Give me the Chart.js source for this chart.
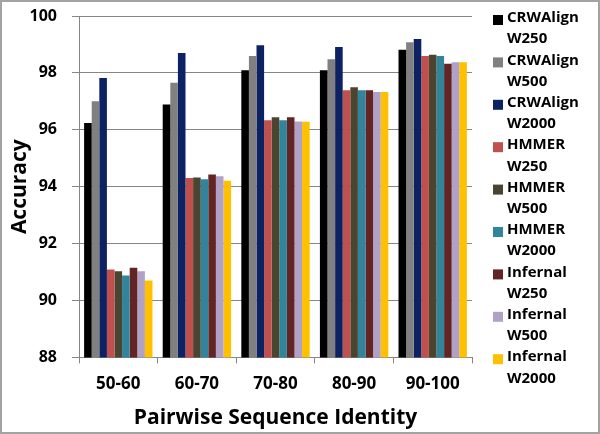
<!DOCTYPE html>
<html>
<head>
<meta charset="utf-8">
<script src="https://cdn.jsdelivr.net/npm/chart.js@4"></script>
<style>
  html, body { margin: 0; padding: 0; background: #fff; }
  .frame { width: 600px; height: 434px; box-sizing: border-box; border: 2px solid #a3a3a3; }
  canvas { display: block; }
</style>
</head>
<body>
<div class="frame"><canvas id="chart" width="596" height="430"></canvas></div>
<script>
// categories + series
const categories = ['50-60', '60-70', '70-80', '80-90', '90-100'];
const yTicks = [88, 90, 92, 94, 96, 98, 100];

const crwW250  = [96.24, 96.89, 98.09, 98.09, 98.81];
const crwW500  = [97.00, 97.65, 98.59, 98.48, 99.08];
const crwW2000 = [97.82, 98.70, 98.97, 98.91, 99.19];
const hmmW250  = [91.09, 94.31, 96.34, 97.39, 98.59];
const hmmW500  = [91.03, 94.32, 96.44, 97.50, 98.64];
const hmmW2000 = [90.88, 94.26, 96.34, 97.39, 98.59];
const infW250  = [91.15, 94.43, 96.44, 97.39, 98.32];
const infW500  = [91.03, 94.37, 96.29, 97.33, 98.37];
const infW2000 = [90.70, 94.21, 96.28, 97.33, 98.37];

const seriesLabels = [
  ['CRWAlign', 'W250'], ['CRWAlign', 'W500'], ['CRWAlign', 'W2000'],
  ['HMMER', 'W250'], ['HMMER', 'W500'], ['HMMER', 'W2000'],
  ['Infernal', 'W250'], ['Infernal', 'W500'], ['Infernal', 'W2000'],
];
const seriesData = [crwW250, crwW500, crwW2000, hmmW250, hmmW500, hmmW2000, infW250, infW500, infW2000];
const seriesColors = ['#000000', '#808080', '#0c2263', '#c0504d', '#4a4530', '#31849b', '#632523', '#b2a1c7', '#ffc000'];

const FONT = '"Open Sans", sans-serif';
const GRID = '#868686';

// legend with two-line labels, drawn at the right
const sideLegend = {
  id: 'sideLegend',
  afterDraw(chart) {
    const ctx = chart.ctx;
    ctx.save();
    ctx.font = `bold 15px ${FONT}`;
    ctx.textBaseline = 'middle';
    const x0 = 491, y0 = 16, step = 21.2;
    seriesLabels.forEach((lbl, i) => {
      const y = y0 + i * 2 * step;
      ctx.fillStyle = seriesColors[i];
      ctx.fillRect(x0, y - 3, 10, 10);
      ctx.fillStyle = '#000';
      ctx.fillText(lbl[0], x0 + 14, y);
      ctx.fillText(lbl[1], x0 + 14, y + step);
    });
    ctx.restore();
  }
};

new Chart(document.getElementById('chart'), {
  type: 'bar',
  data: {
    labels: categories,
    datasets: seriesData.map((d, i) => ({
      label: seriesLabels[i].join(' '),
      data: d,
      backgroundColor: seriesColors[i],
      borderWidth: 0,
      categoryPercentage: 0.87,
      barPercentage: 1.0,
    })),
  },
  options: {
    responsive: false,
    animation: false,
    layout: { padding: { top: 14, right: 126, left: 0, bottom: 1 } },
    plugins: { legend: { display: false }, tooltip: { enabled: false } },
    scales: {
      x: {
        grid: { offset: true, drawOnChartArea: false, drawTicks: true, tickLength: 6, color: GRID },
        border: { color: GRID, width: 1 },
        ticks: { color: '#000', font: { family: FONT, size: 17, weight: 'bold' }, padding: 11 },
        title: { display: true, text: 'Pairwise Sequence Identity', color: '#000', font: { family: FONT, size: 21, weight: 'bold' }, padding: { top: 0, bottom: 0 } },
      },
      y: {
        min: 88, max: 100,
        afterBuildTicks: axis => { axis.ticks = yTicks.map(v => ({ value: v })); },
        afterFit: s => { s.width = 77; s.paddingTop = 0; s.paddingBottom = 0; },
        grid: { color: GRID, tickLength: 7, lineWidth: 1 },
        border: { color: GRID, width: 1 },
        ticks: { color: '#000', font: { family: FONT, size: 16, weight: 'bold' }, padding: 15 },
        title: { display: true, text: 'Accuracy', color: '#000', font: { family: FONT, size: 21, weight: 'bold' }, padding: { top: 5, bottom: 0 } },
      },
    },
  },
  plugins: [sideLegend],
});
</script>
</body>
</html>
